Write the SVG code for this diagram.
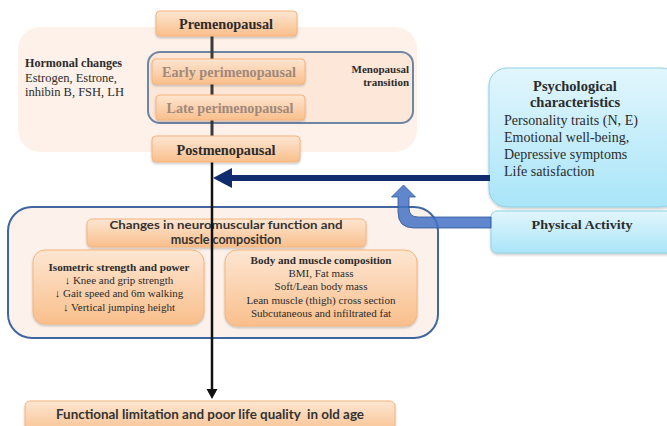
<svg xmlns="http://www.w3.org/2000/svg" width="667" height="426" viewBox="0 0 667 426">
<defs>
<linearGradient id="gOr" x1="0" y1="0" x2="0" y2="1">
<stop offset="0" stop-color="#fde6d2"/>
<stop offset="1" stop-color="#f9bf8c"/>
</linearGradient>
<linearGradient id="gBl" x1="0" y1="0" x2="0" y2="1">
<stop offset="0" stop-color="#e2f6fd"/>
<stop offset="1" stop-color="#a9e5f8"/>
</linearGradient>
<filter id="sh" x="-10%" y="-10%" width="120%" height="130%">
<feDropShadow dx="0" dy="1.5" stdDeviation="1.2" flood-color="#000" flood-opacity="0.22"/>
</filter>
</defs>
<style>
.or{fill:url(#gOr);stroke:#f6b47c;stroke-width:1;filter:url(#sh)}
.bl{fill:url(#gBl);stroke:#8fcfe6;stroke-width:1;filter:url(#sh)}
.serif{font-family:"Liberation Serif","Times New Roman",serif;fill:#2b2b2b}
.sans{font-family:Lato,"Liberation Sans",Arial,sans-serif;font-weight:bold;fill:#333333}
.b{font-weight:bold}
.faded{fill:#a0887c}
.mid{text-anchor:middle}
</style>
<rect width="667" height="426" fill="#ffffff"/>

<g id="hormonal-bg">
<rect x="18" y="27" width="399" height="125" rx="22" fill="#fdf1e9"/>
<text class="serif b" x="25" y="67" font-size="12" textLength="97" lengthAdjust="spacingAndGlyphs">Hormonal changes</text>
<text class="serif" x="25" y="82" font-size="12.5">Estrogen, Estrone,</text>
<text class="serif" x="25" y="96" font-size="12.5">inhibin B, FSH, LH</text>
</g>

<g id="menopausal-transition">
<rect x="148" y="52" width="265" height="71" rx="12" fill="#fce7d8" stroke="#6f85a6" stroke-width="2"/>
<text class="serif b" x="409" y="73" font-size="11" text-anchor="end" fill="#3a3a3a">Menopausal</text>
<text class="serif b" x="409" y="86" font-size="11" text-anchor="end" fill="#3a3a3a">transition</text>
</g>

<g id="neuromuscular">
<rect x="8" y="207" width="430" height="131" rx="24" fill="#fdf2eb" stroke="#41659f" stroke-width="2"/>
</g>

<g id="changes">
<rect class="or" x="87" y="219" width="279" height="28" rx="5"/>
<text class="sans mid" x="226" y="229" font-size="12" textLength="233" lengthAdjust="spacingAndGlyphs">Changes in neuromuscular function and</text>
<text class="sans mid" x="226" y="244" font-size="12.5">muscle composition</text>
</g>

<g id="isometric">
<rect class="or" x="33" y="250" width="171" height="74" rx="12"/>
<text class="serif b mid" x="119" y="271" font-size="10.5" textLength="141" lengthAdjust="spacingAndGlyphs">Isometric strength and power</text>
<text class="serif mid" x="119" y="284" font-size="11">↓ Knee and grip strength</text>
<text class="serif mid" x="119" y="297" font-size="11">↓ Gait speed and 6m walking</text>
<text class="serif mid" x="119" y="311" font-size="11">↓ Vertical jumping height</text>
</g>

<g id="body-composition">
<rect class="or" x="225" y="250" width="192" height="76" rx="12"/>
<text class="serif b mid" x="321" y="264" font-size="10.5" textLength="141" lengthAdjust="spacingAndGlyphs">Body and muscle composition</text>
<text class="serif mid" x="321" y="277" font-size="11">BMI, Fat mass</text>
<text class="serif mid" x="321" y="290" font-size="11">Soft/Lean body mass</text>
<text class="serif mid" x="321" y="304" font-size="11" textLength="149" lengthAdjust="spacingAndGlyphs">Lean muscle (thigh) cross section</text>
<text class="serif mid" x="321" y="317" font-size="11">Subcutaneous and infiltrated fat</text>
</g>

<g id="psychological">
<rect class="bl" x="489" y="68" width="190" height="139" rx="18"/>
<text class="serif b mid" x="575" y="91" font-size="14.5">Psychological</text>
<text class="serif b mid" x="575" y="107" font-size="14.5">characteristics</text>
<text class="serif" x="504" y="125" font-size="14" textLength="134" lengthAdjust="spacingAndGlyphs">Personality traits (N, E)</text>
<text class="serif" x="504" y="142" font-size="14">Emotional well-being,</text>
<text class="serif" x="504" y="159" font-size="14">Depressive symptoms</text>
<text class="serif" x="504" y="176" font-size="14">Life satisfaction</text>
</g>

<g id="physical-activity">
<rect class="bl" x="491" y="211" width="190" height="42" rx="6"/>
<text class="serif b mid" x="582" y="229" font-size="13.5" textLength="101" lengthAdjust="spacingAndGlyphs">Physical Activity</text>
</g>

<g id="functional">
<rect class="or" x="25" y="401" width="370" height="34" rx="5"/>
<text class="sans mid" x="210" y="419" font-size="13" textLength="308" lengthAdjust="spacingAndGlyphs">Functional limitation and poor life quality&#160; in old age</text>
</g>

<g id="connectors">
<line x1="212" y1="36" x2="212" y2="136" stroke="#3a3a3a" stroke-width="3"/>
<line x1="212" y1="162" x2="212" y2="390" stroke="#111111" stroke-width="2.5"/>
<polygon points="206.5,389 217.5,389 212,399" fill="#111111"/>
<line x1="230" y1="178" x2="490" y2="178" stroke="#0f2c6e" stroke-width="6"/>
<polygon points="213,178 232,168 232,188" fill="#0f2c6e"/>
<path d="M491,217 L418,217 Q409,217 409,208 L409,197 L415.5,197 L403.5,185 L391.5,197 L398,197 L398,212 Q398,228 414,228 L491,228 Z" fill="#4472c4" fill-opacity="0.85" stroke="#2f5597" stroke-width="0.8"/>
</g>

<g id="premenopausal">
<rect class="or" x="156" y="11" width="141" height="25" rx="4"/>
<text class="serif b mid" x="226" y="29" font-size="14" textLength="94" lengthAdjust="spacingAndGlyphs">Premenopausal</text>
</g>

<g id="early-perimenopausal">
<rect class="or" x="152" y="59" width="153" height="25" rx="4"/>
<text class="serif b mid faded" x="229" y="77" font-size="14" textLength="134" lengthAdjust="spacingAndGlyphs">Early perimenopausal</text>
</g>

<g id="late-perimenopausal">
<rect class="or" x="156" y="95" width="149" height="25" rx="4"/>
<text class="serif b mid faded" x="230" y="113" font-size="14" textLength="127" lengthAdjust="spacingAndGlyphs">Late perimenopausal</text>
</g>

<g id="postmenopausal">
<rect class="or" x="152" y="136" width="148" height="26" rx="4"/>
<text class="serif b mid" x="226" y="155" font-size="14" textLength="99" lengthAdjust="spacingAndGlyphs">Postmenopausal</text>
</g>
</svg>
